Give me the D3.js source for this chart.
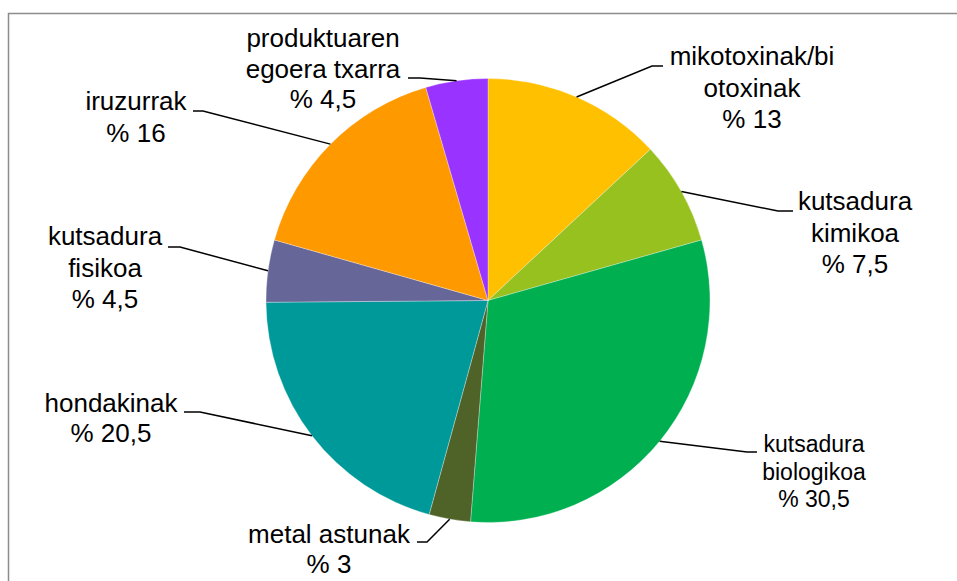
<!DOCTYPE html>
<html>
<head>
<meta charset="utf-8">
<script src="https://cdn.jsdelivr.net/npm/d3@7"></script>
<style>
  body { margin: 0; background: #fff; }
  svg { display: block; font-family: "Liberation Sans", Arial, sans-serif; }
</style>
</head>
<body>
<div id="chart"></div>
<script>

// Data (clockwise from 12 o'clock)
var categories = ["mikotoxinak/biotoxinak", "kutsadura kimikoa", "kutsadura biologikoa",
    "metal astunak", "hondakinak", "kutsadura fisikoa", "iruzurrak", "produktuaren egoera txarra"];
var values = [13, 7.5, 30.5, 3, 20.5, 4.5, 16, 4.5];
var labelLines = [
    ["mikotoxinak/bi", "otoxinak", "% 13"],
    ["kutsadura", "kimikoa", "% 7,5"],
    ["kutsadura", "biologikoa", "% 30,5"],
    ["metal astunak", "% 3"],
    ["hondakinak", "% 20,5"],
    ["kutsadura", "fisikoa", "% 4,5"],
    ["iruzurrak", "% 16"],
    ["produktuaren", "egoera txarra", "% 4,5"]
];
var colors = ["#ffc000", "#97c11f", "#00b050", "#4f6228", "#009999", "#666699", "#ff9900", "#9933ff"];

// label placement: text centre x, first baseline, line step, font size, leader stub (text end, elbow)
var labelLayout = [
    { x: 752, y: 65,  step: 31.5, size: 26, stub: [[663, 66], [652, 66]] },
    { x: 855, y: 210, step: 31.5, size: 26, stub: [[793, 211], [778, 211]] },
    { x: 814, y: 452, step: 27.5, size: 23, stub: [[757, 452], [747, 452]] },
    { x: 329, y: 543, step: 30,   size: 26, stub: [[417, 542], [427, 542]] },
    { x: 111, y: 412, step: 30,   size: 26, stub: [[184, 412], [200, 412]] },
    { x: 105, y: 245, step: 31.5, size: 26, stub: [[168, 247], [180, 247]] },
    { x: 136, y: 110, step: 32,   size: 26, stub: [[193, 111], [203, 111]] },
    { x: 323, y: 47,  step: 30.5, size: 26, stub: [[408, 78], [420, 78]] }
];

var width = 957, height = 581;
var cx = 488, cy = 300.5, radius = 222;

var svg = d3.select("#chart").append("svg")
    .attr("width", width)
    .attr("height", height);

// chart frame (cropped at right and bottom)
svg.append("rect")
    .attr("x", 8.5).attr("y", 13.5)
    .attr("width", width + 20).attr("height", height + 20)
    .attr("fill", "none")
    .attr("stroke", "#8c8c8c")
    .attr("stroke-width", 1.5);

var pie = d3.pie().sort(null).value(function(d) { return d; });
var arcs = pie(values);

var arc = d3.arc().innerRadius(0).outerRadius(radius);

var g = svg.append("g")
    .attr("transform", "translate(" + cx + "," + cy + ")");

g.selectAll("path.slice")
    .data(arcs)
    .enter()
    .append("path")
    .attr("class", "slice")
    .attr("d", arc)
    .attr("fill", function(d, i) { return colors[i]; })
    .attr("stroke", "#ffffff")
    .attr("stroke-width", 0.5)
    .attr("stroke-opacity", 0.6);

// leader lines: text stub -> elbow -> slice midpoint on the arc
svg.selectAll("polyline.leader")
    .data(arcs)
    .enter()
    .append("polyline")
    .attr("class", "leader")
    .attr("fill", "none")
    .attr("stroke", "#000")
    .attr("stroke-width", 1.5)
    .attr("points", function(d, i) {
        var a = (d.startAngle + d.endAngle) / 2;
        var end = [cx + radius * Math.sin(a), cy - radius * Math.cos(a)];
        var s = labelLayout[i].stub;
        return [s[0], s[1], end].map(function(p) { return p.join(","); }).join(" ");
    });

// labels
var labels = svg.selectAll("text.label")
    .data(labelLines)
    .enter()
    .append("text")
    .attr("class", "label")
    .attr("text-anchor", "middle")
    .attr("fill", "#000")
    .attr("font-size", function(d, i) { return labelLayout[i].size + "px"; });

labels.each(function(lines, i) {
    var L = labelLayout[i];
    d3.select(this).selectAll("tspan")
        .data(lines)
        .enter()
        .append("tspan")
        .attr("x", L.x)
        .attr("y", function(d, j) { return L.y + j * L.step; })
        .text(function(d) { return d; });
});

</script>
</body>
</html>
